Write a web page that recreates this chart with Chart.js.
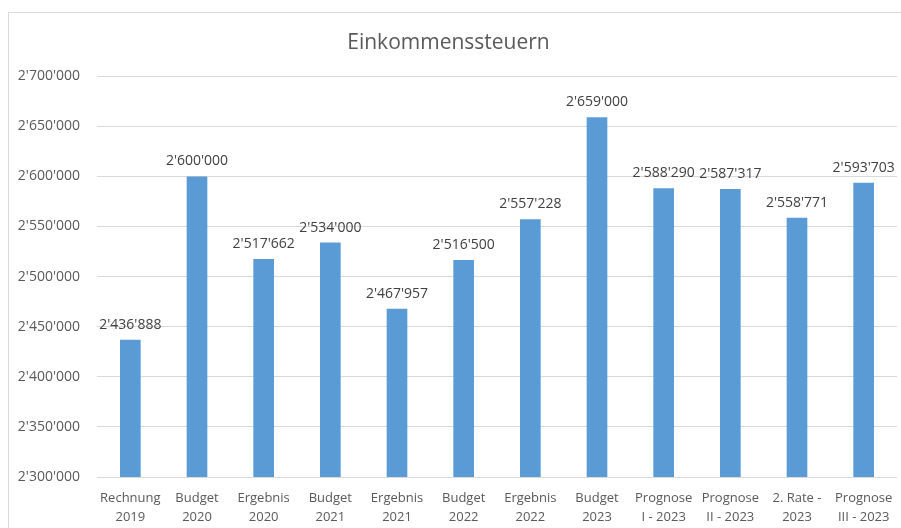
<!DOCTYPE html>
<html>
<head>
<meta charset="utf-8">
<script src="https://cdn.jsdelivr.net/npm/chart.js@4/dist/chart.umd.min.js"></script>
<style>
  html,body{margin:0;padding:0;background:#fff;}
  #wrap{position:relative;width:901px;height:528px;overflow:hidden;}
  #frame{position:absolute;left:8px;top:12px;width:900px;height:530px;border:1px solid #d9d9d9;box-sizing:border-box;}
  canvas{position:absolute;left:0;top:0;}
</style>
</head>
<body>
<div id="wrap">
  <div id="frame"></div>
  <canvas id="c" width="901" height="528"></canvas>
</div>
<script>
const categories = [
  ["Rechnung","2019"],["Budget","2020"],["Ergebnis","2020"],["Budget","2021"],
  ["Ergebnis","2021"],["Budget","2022"],["Ergebnis","2022"],["Budget","2023"],
  ["Prognose","I - 2023"],["Prognose","II - 2023"],["2. Rate -","2023"],["Prognose","III - 2023"]
];
const values = [2436888, 2600000, 2517662, 2534000, 2467957, 2516500, 2557228, 2659000, 2588290, 2587317, 2558771, 2593703];
const yMin = 2300000, yMax = 2700000, yStep = 50000;
const titleText = "Einkommenssteuern";

function fmt(v){
  return String(Math.round(v)).replace(/\B(?=(\d{3})+(?!\d))/g, "'");
}

const FONT = "'Open Sans', 'Liberation Sans', sans-serif";

const labelPlugin = {
  id: 'barLabels',
  afterDatasetsDraw(chart){
    const ctx = chart.ctx;
    const meta = chart.getDatasetMeta(0);
    ctx.save();
    ctx.font = "14px " + FONT;
    ctx.fillStyle = "#404040";
    ctx.textAlign = "center";
    ctx.textBaseline = "bottom";
    meta.data.forEach((bar, i) => {
      ctx.fillText(fmt(values[i]), bar.x, bar.y - 8);
    });
    ctx.restore();
  }
};

new Chart(document.getElementById('c'), {
  type: 'bar',
  data: {
    labels: categories,
    datasets: [{
      data: values,
      backgroundColor: '#5B9BD5',
      barPercentage: 0.31,
      categoryPercentage: 1.0
    }]
  },
  options: {
    responsive: false,
    animation: false,
    devicePixelRatio: 1,
    layout: { padding: { left: 0, right: 4, top: 0, bottom: 0 } },
    plugins: {
      legend: { display: false },
      tooltip: { enabled: false },
      title: {
        display: true,
        text: titleText,
        color: '#595959',
        font: { family: FONT, size: 21, weight: 'normal' },
        padding: { top: 30, bottom: 21 }
      }
    },
    scales: {
      x: {
        grid: { display: false },
        border: { display: false },
        ticks: {
          color: '#595959',
          font: { family: FONT, size: 13, lineHeight: 1.45 },
          padding: 4,
          maxRotation: 0,
          autoSkip: false
        },
        afterFit(scale){ scale.height = 51; }
      },
      y: {
        min: yMin, max: yMax,
        grid: { color: '#d9d9d9', drawTicks: false, lineWidth: 1 },
        border: { display: false },
        ticks: {
          stepSize: yStep,
          color: '#595959',
          font: { family: FONT, size: 14 },
          padding: 17,
          callback: (v) => fmt(v)
        },
        afterFit(scale){ scale.width = 97; }
      }
    }
  },
  plugins: [labelPlugin]
});
</script>
</body>
</html>
